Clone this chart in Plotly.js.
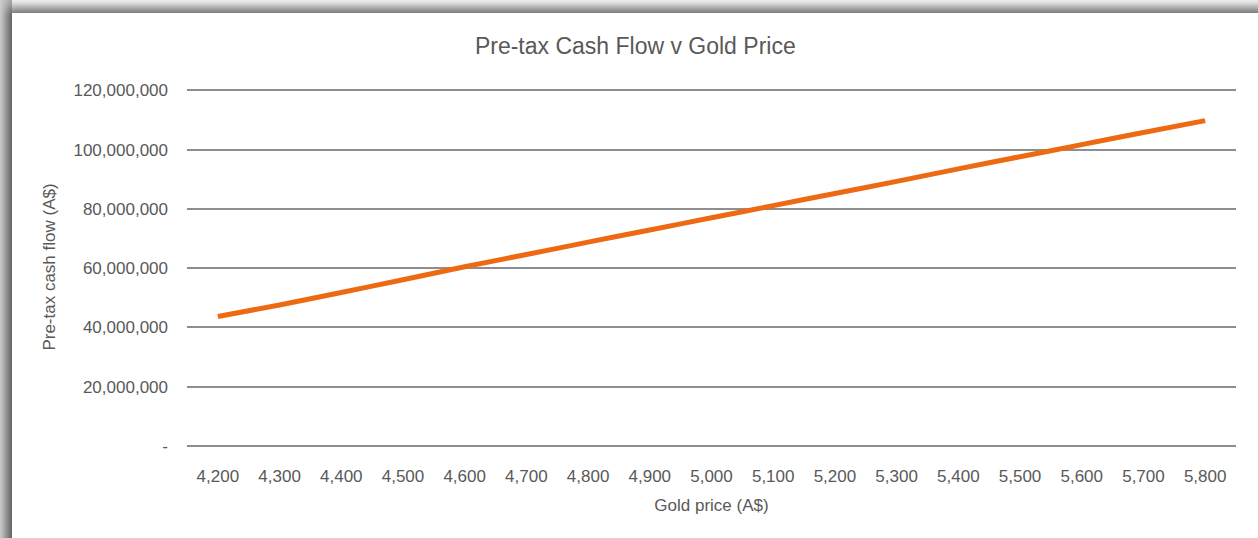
<!DOCTYPE html>
<html>
<head>
<meta charset="utf-8">
<script src="https://cdn.plot.ly/plotly-3.0.1.min.js"></script>
<style>
  html, body { margin: 0; padding: 0; width: 1258px; height: 538px; overflow: hidden; background: #d9d9d9; }
  #card { position: absolute; left: 12px; top: 13px; width: 1300px; height: 600px; background: #fff;
          box-shadow: -5px -5px 9px rgba(0,0,0,0.45); }
  #chart { position: absolute; left: 0; top: 0; width: 1258px; height: 538px; }
  #bgtop { position: absolute; left: 0; top: 0; width: 1258px; height: 13px;
           background: linear-gradient(to bottom, #f2f2f2, #cfcfcf); }
  #bgleft { position: absolute; left: 0; top: 0; width: 12px; height: 538px;
           background: linear-gradient(to right, #cfcfcf, #a6a6a6); }
</style>
</head>
<body>
<div id="bgtop"></div>
<div id="bgleft"></div>
<div id="card"></div>
<div id="chart"></div>
<script>
// Data (A$)
const goldPrice = ["4,200","4,300","4,400","4,500","4,600","4,700","4,800","4,900","5,000",
                   "5,100","5,200","5,300","5,400","5,500","5,600","5,700","5,800"];
const cashFlowMillions = [43.7, 47.6, 51.8, 56.1, 60.5, 64.6, 68.8, 72.9, 77.0,
                          81.1, 85.2, 89.3, 93.5, 97.6, 101.7, 105.8, 109.8];
const yTickVals = [0, 20000000, 40000000, 60000000, 80000000, 100000000, 120000000];
const yTickText = ["-", "20,000,000", "40,000,000", "60,000,000", "80,000,000", "100,000,000", "120,000,000"];

const cashFlow = cashFlowMillions.map(v => v * 1e6);

const textColor = '#595959';
const fontFamily = '"Liberation Sans", Arial, sans-serif';
const gridColor = '#8e8e8e';

const trace = {
  x: goldPrice,
  y: cashFlow,
  type: 'scatter',
  mode: 'lines',
  line: { color: '#ED6A12', width: 5, shape: 'spline', smoothing: 0.4 },
  hoverinfo: 'x+y'
};

const layout = {
  width: 1258,
  height: 538,
  paper_bgcolor: 'rgba(0,0,0,0)',
  plot_bgcolor: 'rgba(0,0,0,0)',
  margin: { l: 187, r: 22, t: 88, b: 92 },
  showlegend: false,
  font: { family: fontFamily, color: textColor, size: 17 },
  title: {
    text: 'Pre-tax Cash Flow v Gold Price',
    font: { family: fontFamily, size: 23, color: textColor },
    x: 0.505, xref: 'container', xanchor: 'center',
    y: 1 - 46 / 538, yref: 'container', yanchor: 'middle'
  },
  xaxis: {
    type: 'category',
    range: [-0.5, goldPrice.length - 0.5],
    showgrid: false,
    showline: false,
    zeroline: false,
    ticks: '',
    ticklabelstandoff: 18,
    tickfont: { family: fontFamily, size: 17, color: textColor },
    title: { text: 'Gold price (A$)', font: { family: fontFamily, size: 17, color: textColor }, standoff: 14 },
    fixedrange: true
  },
  yaxis: {
    range: [0, 120800000],
    tickvals: yTickVals,
    ticktext: yTickText,
    showgrid: true,
    gridcolor: gridColor,
    gridwidth: 2,
    zeroline: true,
    zerolinecolor: gridColor,
    zerolinewidth: 2,
    showline: false,
    ticks: '',
    ticklabelstandoff: 18,
    tickfont: { family: fontFamily, size: 17, color: textColor },
    title: { text: 'Pre-tax cash flow (A$)', font: { family: fontFamily, size: 17, color: textColor }, standoff: 13 },
    fixedrange: true
  }
};

Plotly.newPlot('chart', [trace], layout, { displayModeBar: false, staticPlot: true });
</script>
</body>
</html>
